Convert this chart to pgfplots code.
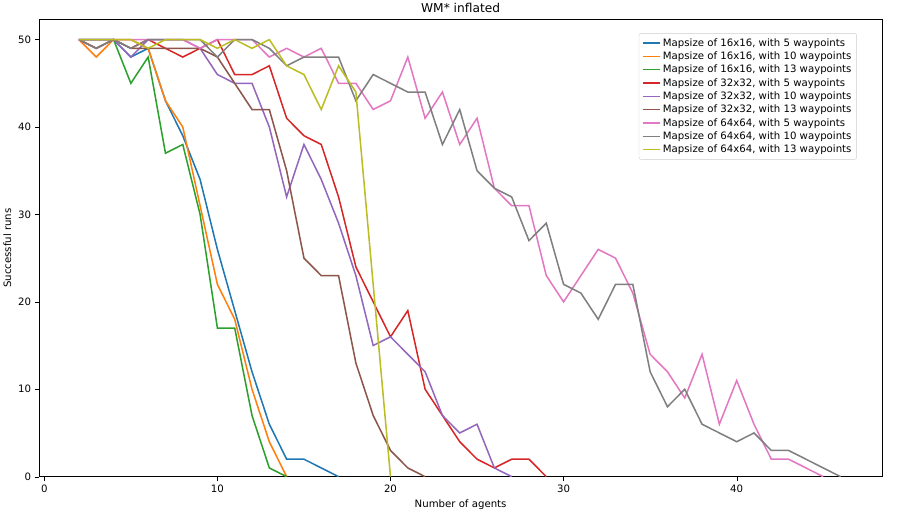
\documentclass[border=0pt]{standalone}
\usepackage{pgfplots}
\pgfplotsset{compat=1.18}
\usepackage{fontspec}
\setmainfont{DejaVu Sans}
\definecolor{c0}{HTML}{1F77B4}\definecolor{c1}{HTML}{FF7F0E}\definecolor{c2}{HTML}{2CA02C}
\definecolor{c3}{HTML}{D62728}\definecolor{c4}{HTML}{9467BD}\definecolor{c5}{HTML}{8C564B}
\definecolor{c6}{HTML}{E377C2}\definecolor{c7}{HTML}{7F7F7F}\definecolor{c8}{HTML}{BCBD22}
\begin{document}
\begin{tikzpicture}
\begin{axis}[width=826bp,height=448bp,scale only axis,
 xmin=-0.3,xmax=48.4,ymin=0,ymax=52.3,
 xtick={0,10,20,30,40},ytick={0,10,20,30,40,50},
 xtick pos=bottom,ytick pos=left,
 tick align=outside,tick style={black},
 ticklabel style={font=\fontsize{10}{12}\selectfont},
 /pgf/number format/assume math mode=true,
 title={WM* inflated},title style={font=\fontsize{12}{14}\selectfont,yshift=-3pt},
 xlabel={Number of agents},ylabel={Successful runs},
 label style={font=\fontsize{10}{12}\selectfont},
 legend pos=north east,
 legend style={font=\fontsize{10}{13}\selectfont,draw=black!20,rounded corners=2pt,inner sep=3pt},
 legend cell align=left,
 every axis plot/.append style={line width=1.5pt},
]
\addplot[c0] coordinates {(2,50)(3,50)(4,50)(5,48)(6,49)(7,43)(8,39)(9,34)(10,26)(11,19)(12,12)(13,6)(14,2)(15,2)(16,1)(17,0)};
\addplot[c1] coordinates {(2,50)(3,48)(4,50)(5,50)(6,49)(7,43)(8,40)(9,31)(10,22)(11,18)(12,10)(13,4)(14,0)};
\addplot[c2] coordinates {(2,50)(3,50)(4,50)(5,45)(6,48)(7,37)(8,38)(9,30)(10,17)(11,17)(12,7)(13,1)(14,0)};
\addplot[c3] coordinates {(2,50)(3,49)(4,50)(5,49)(6,50)(7,49)(8,48)(9,49)(10,50)(11,46)(12,46)(13,47)(14,41)(15,39)(16,38)(17,32)(18,24)(19,20)(20,16)(21,19)(22,10)(23,7)(24,4)(25,2)(26,1)(27,2)(28,2)(29,0)};
\addplot[c4] coordinates {(2,50)(3,50)(4,50)(5,48)(6,50)(7,50)(8,50)(9,49)(10,46)(11,45)(12,45)(13,40)(14,32)(15,38)(16,34)(17,29)(18,23)(19,15)(20,16)(21,14)(22,12)(23,7)(24,5)(25,6)(26,1)(27,0)};
\addplot[c5] coordinates {(2,50)(3,49)(4,50)(5,49)(6,49)(7,49)(8,49)(9,49)(10,48)(11,45)(12,42)(13,42)(14,35)(15,25)(16,23)(17,23)(18,13)(19,7)(20,3)(21,1)(22,0)};
\addplot[c6] coordinates {(2,50)(3,50)(4,50)(5,50)(6,50)(7,50)(8,50)(9,49)(10,50)(11,50)(12,50)(13,48)(14,49)(15,48)(16,49)(17,45)(18,45)(19,42)(20,43)(21,48)(22,41)(23,44)(24,38)(25,41)(26,33)(27,31)(28,31)(29,23)(30,20)(31,23)(32,26)(33,25)(34,21)(35,14)(36,12)(37,9)(38,14)(39,6)(40,11)(41,6)(42,2)(43,2)(44,1)(45,0)};
\addplot[c7] coordinates {(2,50)(3,49)(4,50)(5,49)(6,50)(7,50)(8,50)(9,50)(10,48)(11,50)(12,50)(13,49)(14,47)(15,48)(16,48)(17,48)(18,43)(19,46)(20,45)(21,44)(22,44)(23,38)(24,42)(25,35)(26,33)(27,32)(28,27)(29,29)(30,22)(31,21)(32,18)(33,22)(34,22)(35,12)(36,8)(37,10)(38,6)(39,5)(40,4)(41,5)(42,3)(43,3)(44,2)(45,1)(46,0)};
\addplot[c8] coordinates {(2,50)(3,50)(4,50)(5,50)(6,49)(7,50)(8,50)(9,50)(10,49)(11,50)(12,49)(13,50)(14,47)(15,46)(16,42)(17,47)(18,44)(19,22)(20,0)};
\legend{{Mapsize of 16x16, with 5 waypoints},{Mapsize of 16x16, with 10 waypoints},{Mapsize of 16x16, with 13 waypoints},{Mapsize of 32x32, with 5 waypoints},{Mapsize of 32x32, with 10 waypoints},{Mapsize of 32x32, with 13 waypoints},{Mapsize of 64x64, with 5 waypoints},{Mapsize of 64x64, with 10 waypoints},{Mapsize of 64x64, with 13 waypoints}}
\end{axis}
\path (current bounding box.east) ++(35bp,0) coordinate (r);
\path (r) ++(0,1bp);
\end{tikzpicture}
\end{document}
